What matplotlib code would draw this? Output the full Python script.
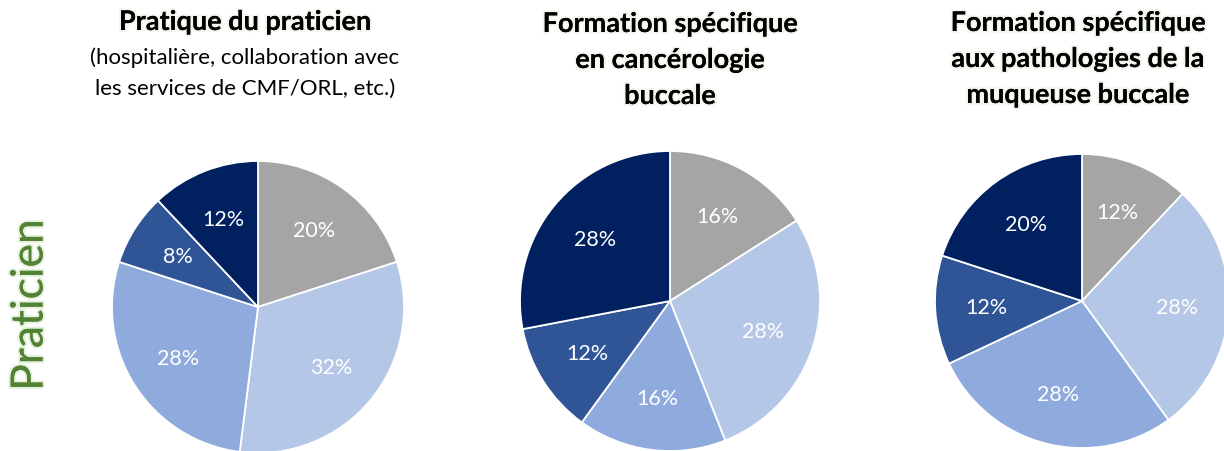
import matplotlib
matplotlib.use("Agg")
import matplotlib.pyplot as plt
import matplotlib.patheffects as pe

# DATA

slice_colors = ["#A5A5A5", "#B4C7E7", "#8FAADC", "#2F5597", "#002060"]

pratique_values = [20, 32, 28, 8, 12]
cancero_values = [16, 28, 16, 12, 28]
muqueuse_values = [12, 28, 28, 12, 20]

pie_values = [pratique_values, cancero_values, muqueuse_values]

titles = [
    ["Pratique du praticien"],
    ["Formation spécifique", "en cancérologie", "buccale"],
    ["Formation spécifique", "aux pathologies de la", "muqueuse buccale"],
]
subtitle = ["(hospitalière, collaboration avec", "les services de CMF/ORL, etc.)"]
row_label = "Praticien"

# LAYOUT (pixel units, origin bottom-left)

W, H = 1224, 452
pie_centers = [(258, H - 308), (670, H - 302), (1082, H - 302)]
pie_radii = [146, 150, 147]
title_x = [245, 670, 1078]
title_top = [23, 25, 24]

plt.rcParams["font.family"] = ["Lato", "DejaVu Sans"]

fig = plt.figure(figsize=(W / 100, H / 100), dpi=100)
ax = fig.add_axes([0, 0, 1, 1])

for values, center, radius in zip(pie_values, pie_centers, pie_radii):
    ax.pie(
        values,
        colors=slice_colors,
        startangle=90,
        counterclock=False,
        center=center,
        radius=radius,
        autopct=lambda p: f"{p:.0f}%",
        pctdistance=0.65,
        wedgeprops=dict(edgecolor="white", linewidth=1.3),
        textprops=dict(color="white", fontsize=15.5),
    )

ax.set_xlim(0, W)
ax.set_ylim(0, H)
ax.set_aspect("auto")
ax.axis("off")

glow = [pe.withStroke(linewidth=3, foreground="#e4f0da", alpha=0.5), pe.Normal()]

# pie titles
for x, top, lines in zip(title_x, title_top, titles):
    for i, line in enumerate(lines):
        ax.text(x, H - top - i * 36, line, ha="center", va="center",
                fontsize=19.5, fontweight="bold", color="black",
                path_effects=glow)

for i, line in enumerate(subtitle):
    ax.text(title_x[0], H - 58 - i * 31, line, ha="center", va="center",
            fontsize=16, color="black")

# row label
ax.text(30, H - 306, row_label, rotation=90, ha="center", va="center",
        fontsize=32, color="#548235",
        path_effects=[pe.withStroke(linewidth=3, foreground="#d5e8c8", alpha=0.6),
                      pe.Normal()])

fig.savefig("out.png", dpi=100)
